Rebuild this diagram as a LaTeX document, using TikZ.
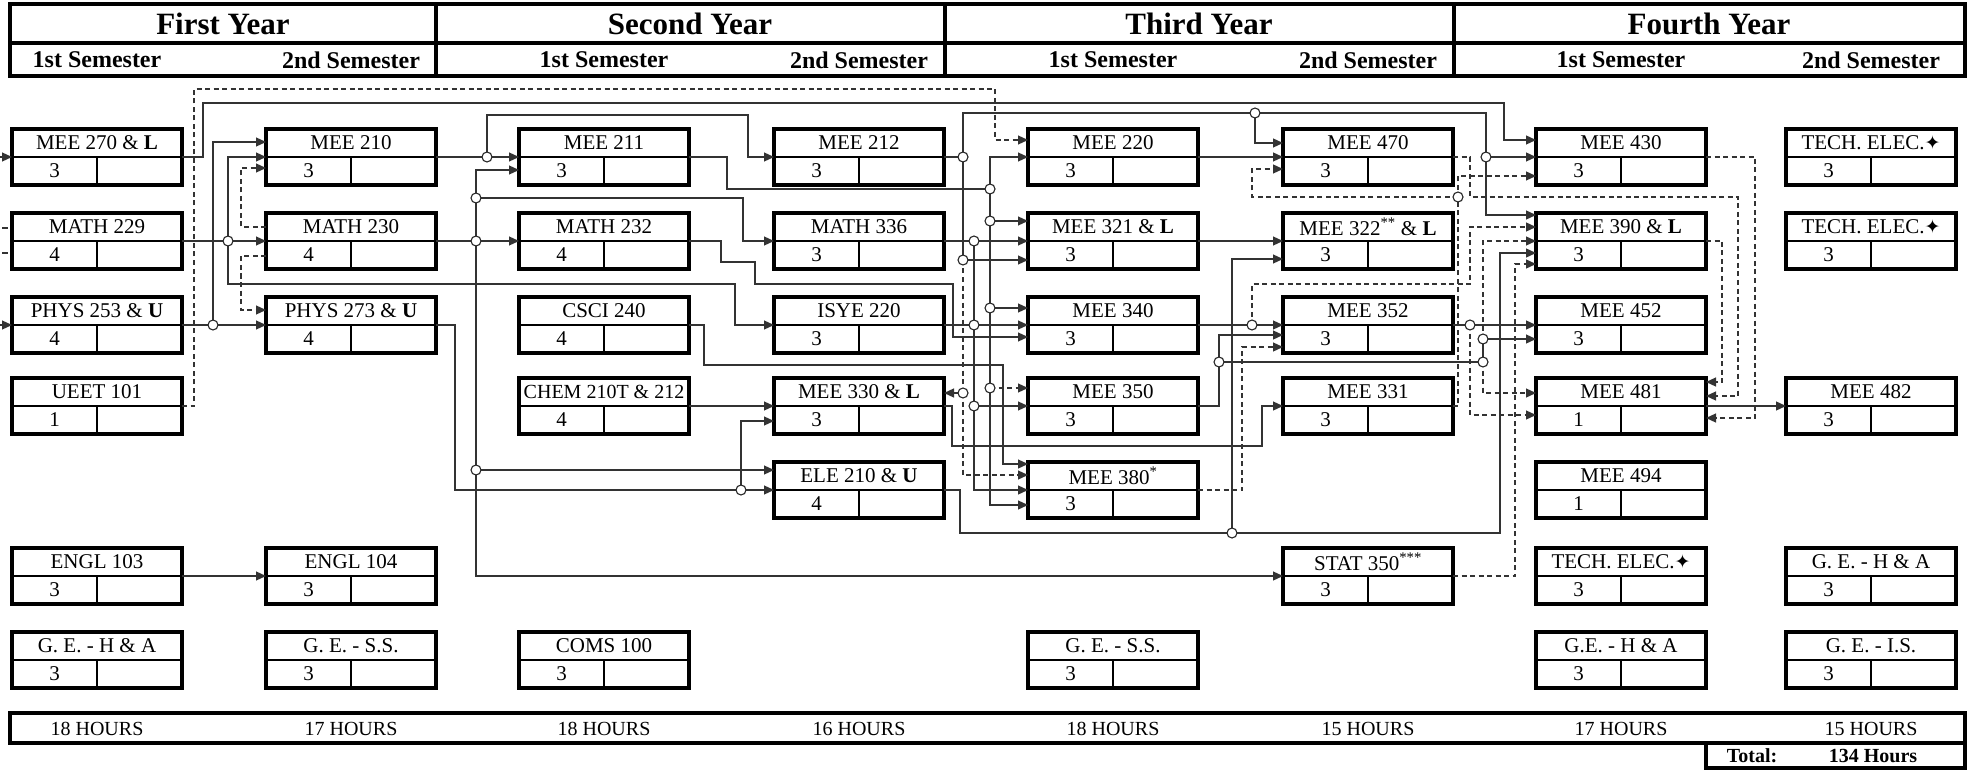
\documentclass[tikz,border=0pt]{standalone}
\usepackage{fontspec}
\setmainfont{Liberation Serif}
\newfontfamily\symf{DejaVu Sans}
\usetikzlibrary{arrows.meta,calc}
\newcommand{\crs}[5]{%
  \node[cbox] (#1) at (#2,#3) {};
  \draw[innerl] (#1.west) -- (#1.east) (#1.center) -- (#1.south);
  \node[ctext] (#1-t) at ($(#1.north)!0.5!(#1.center)$) {#4};
  \node[ctext] (#1-c) at ($(#1.south west)!0.5!(#1.center)$) {#5};
}
\newcommand{\techel}{TECH. ELEC.{\symf\fontsize{19}{22}\selectfont ✦}}
\begin{document}
\begin{tikzpicture}[x=1pt,y=-1pt,
  every node/.style={font=\fontsize{21}{25}\selectfont},
  cbox/.style={draw, line width=3.5pt, minimum width=170pt, minimum height=56pt, inner sep=0pt, outer sep=0pt, anchor=north west},
  innerl/.style={line width=1.6pt},
  ctext/.style={inner sep=1pt},
  hdr/.style={line width=3.5pt},
  yr/.style={font=\fontsize{31}{36}\selectfont\bfseries},
  sem/.style={font=\fontsize{24}{28}\selectfont\bfseries},
  conn/.style={line width=1.2pt, draw=black!80},
  arr/.style={conn, -{Triangle[length=10pt,width=9pt]}},
  dsh/.style={dash pattern=on 5pt off 3.5pt},
  junc/.style={circle, draw=black!85, line width=1.1pt, fill=white, minimum size=10pt, inner sep=0pt}]
\useasboundingbox (0,0) rectangle (1971,770);
% header
\draw[hdr] (10,4) rectangle (1965,76);
\draw[hdr] (10,43) -- (1965,43);
\draw[hdr] (436,4) -- (436,76) (945,4) -- (945,76) (1454,4) -- (1454,76);
\node[yr] (y1) at (223,23.5) {First Year};
\node[yr] (y2) at (690,23.5) {Second Year};
\node[yr] (y3) at (1199,23.5) {Third Year};
\node[yr] (y4) at (1709,23.5) {Fourth Year};
\foreach \x/\n in {97/1,604/3,1113/5,1621/7} {\node[sem] (s\n) at (\x,60) {1st Semester};}
\foreach \x/\n in {351/2,859/4,1368/6,1871/8} {\node[sem] (s\n) at (\x,60) {2nd Semester};}
% courses
\crs{m270}{12}{129}{MEE 270 \& \textbf{L}}{3}
\crs{ma229}{12}{213}{MATH 229}{4}
\crs{ph253}{12}{297}{PHYS 253 \& \textbf{U}}{4}
\crs{ue101}{12}{378}{UEET 101}{1}
\crs{en103}{12}{548}{ENGL 103}{3}
\crs{ge1}{12}{632}{G. E. - H \& A}{3}
\crs{m210}{266}{129}{MEE 210}{3}
\crs{ma230}{266}{213}{MATH 230}{4}
\crs{ph273}{266}{297}{PHYS 273 \& \textbf{U}}{4}
\crs{en104}{266}{548}{ENGL 104}{3}
\crs{ge2}{266}{632}{G. E. - S.S.}{3}
\crs{m211}{519}{129}{MEE 211}{3}
\crs{ma232}{519}{213}{MATH 232}{4}
\crs{cs240}{519}{297}{CSCI 240}{4}
\crs{ch210}{519}{378}{{\fontsize{20}{24}\selectfont CHEM 210T \& 212}}{4}
\crs{co100}{519}{632}{COMS 100}{3}
\crs{m212}{774}{129}{MEE 212}{3}
\crs{ma336}{774}{213}{MATH 336}{3}
\crs{is220}{774}{297}{ISYE 220}{3}
\crs{m330}{774}{378}{MEE 330 \& \textbf{L}}{3}
\crs{el210}{774}{462}{ELE 210 \& \textbf{U}}{4}
\crs{m220}{1028}{129}{MEE 220}{3}
\crs{m321}{1028}{213}{MEE 321 \& \textbf{L}}{3}
\crs{m340}{1028}{297}{MEE 340}{3}
\crs{m350}{1028}{378}{MEE 350}{3}
\crs{m380}{1028}{462}{MEE 380\textsuperscript{*}}{3}
\crs{ge5}{1028}{632}{G. E. - S.S.}{3}
\crs{m470}{1283}{129}{MEE 470}{3}
\crs{m322}{1283}{213}{MEE 322\textsuperscript{**} \& \textbf{L}}{3}
\crs{m352}{1283}{297}{MEE 352}{3}
\crs{m331}{1283}{378}{MEE 331}{3}
\crs{st350}{1283}{548}{STAT 350\textsuperscript{***}}{3}
\crs{m430}{1536}{129}{MEE 430}{3}
\crs{m390}{1536}{213}{MEE 390 \& \textbf{L}}{3}
\crs{m452}{1536}{297}{MEE 452}{3}
\crs{m481}{1536}{378}{MEE 481}{1}
\crs{m494}{1536}{462}{MEE 494}{1}
\crs{te7}{1536}{548}{\techel}{3}
\crs{ge7}{1536}{632}{G.E. - H \& A}{3}
\crs{te8a}{1786}{129}{\techel}{3}
\crs{te8b}{1786}{213}{\techel}{3}
\crs{m482}{1786}{378}{MEE 482}{3}
\crs{ge8a}{1786}{548}{G. E. - H \& A}{3}
\crs{ge8b}{1786}{632}{G. E. - I.S.}{3}
% hours
\draw[hdr] (10,713) rectangle (1965,743);
\draw[hdr] (1706,743) rectangle (1965,768);
\foreach \x/\h/\n in {97/18/1,351/17/2,604/18/3,859/16/4,1113/18/5,1368/15/6,1621/17/7,1871/15/8}
  {\node (h\n) at (\x,728.5) {\fontsize{20}{24}\selectfont\h\ HOURS};}
\node (tot) at (1752,756) {\fontsize{20}{24}\selectfont\textbf{Total:}};
\node (toth) at (1873,756) {\fontsize{20}{24}\selectfont\textbf{134 Hours}};
% junctions
\coordinate (J1) at (213,325);
\coordinate (J2) at (228,241);
\coordinate (J3) at (476,241);
\coordinate (J4) at (476,198);
\coordinate (J5) at (476,470);
\coordinate (J6) at (487,157);
\coordinate (J7) at (741,490);
\coordinate (J8) at (963,157);
\coordinate (J9) at (963,260);
\coordinate (J10) at (963,393);
\coordinate (J11) at (990,189);
\coordinate (J12) at (990,221);
\coordinate (J13) at (990,308);
\coordinate (J14) at (990,388);
\coordinate (J15) at (974,241);
\coordinate (J16) at (974,325);
\coordinate (J17) at (974,406);
\coordinate (J18) at (1255,113);
\coordinate (J19) at (1252,325);
\coordinate (J20) at (1219,362);
\coordinate (J21) at (1232,533);
\coordinate (J22) at (1458,197);
\coordinate (J23) at (1470,325);
\coordinate (J24) at (1483,339);
\coordinate (J25) at (1483,362);
\coordinate (J26) at (1486,157);
% left edge
\coordinate (e1) at (-2,157);
\coordinate (e2) at (-2,325);
\coordinate (e3) at (2,228);
\coordinate (e4) at (8,228);
\coordinate (e5) at (2,253);
\coordinate (e6) at (8,253);
\draw[arr] (e1) -- (m270.west);
\draw[arr] (e2) -- (ph253.west);
\draw[conn] (e3) -- (e4) (e5) -- (e6);
% first year
\draw[arr] (m270.east) -| (203,103) -| (1504,140) -- ($(m430.north west)+(0,11)$);
\draw[arr,dsh] (ue101.east) -| (194,89) -| (995,140) -- ($(m220.north west)+(0,11)$);
\draw[arr] (ma229.east) -- (ma230.west);
\draw[arr] (J2) |- (m210.west);
\draw[arr] (J2) |- (735,284) |- (is220.west);
\draw[arr] (ph253.east) -- (ph273.west);
\draw[arr] (J1) |- ($(m210.north west)+(0,13)$);
\draw[arr,dsh] ($(ma230.north west)+(0,14)$) -| (241,168) -- ($(m210.north west)+(0,39)$);
\draw[arr,dsh] ($(ma230.north west)+(0,43)$) -| (241,310) -- ($(ph273.north west)+(0,13)$);
% second semester
\draw[arr] (m210.east) -- (m211.west);
\draw[arr] (J6) |- (748,115) |- (m212.west);
\draw[arr] (ma230.east) -- (ma232.west);
\draw[arr] (J3) |- ($(m211.north west)+(0,41)$);
\draw[arr] (J4) -| (743,241) -- (ma336.west);
\draw[conn] (J3) -- (J5);
\draw[arr] (J5) -- ($(el210.north west)+(0,8)$);
\draw[arr] (J5) |- (st350.west);
\draw[arr] (ph273.east) -| (455,490) -- (el210.west);
\draw[arr] (J7) |- ($(m330.north west)+(0,43)$);
% second year
\draw[conn] (m211.east) -| (727,189) -- (J11);
\draw[arr] (J11) |- (m220.west);
\draw[arr] (J11) |- ($(m380.north west)+(0,43)$);
\draw[arr] (J12) -- ($(m321.north west)+(0,8)$);
\draw[arr] (J13) -- ($(m340.north west)+(0,11)$);
\draw[arr,dsh] (J14) -- ($(m350.north west)+(0,10)$);
\draw[arr] (ma232.east) -| (721,262) -| (755,284) -| (953,337) -- ($(m340.north west)+(0,40)$);
\draw[arr] (cs240.east) -| (704,365) -| (1003,464) -- ($(m380.north west)+(0,2)$);
\draw[arr] (ch210.east) -- (m330.west);
\draw[conn] (m212.east) -- (J8);
\draw[conn] (J8) |- (J18);
\draw[arr] (J18) |- ($(m470.north west)+(0,14)$);
\draw[arr] (J18) -| (1486,215) -- ($(m390.north west)+(0,2)$);
\draw[arr] (J26) -- (m430.west);
\draw[arr] (J8) |- ($(m321.north west)+(0,47)$);
\draw[conn,dsh] (J9) -- (J10);
\draw[arr] (J10) -- ($(m330.north east)+(0,15)$);
\draw[arr,dsh] (J10) |- ($(m380.north west)+(0,13)$);
\draw[arr] (ma336.east) -- (m321.west);
\draw[arr] (J15) |- (m380.west);
\draw[arr] (J16) -- (m340.west);
\draw[arr] (J17) -- (m350.west);
\draw[conn] (is220.east) -- (J16);
\draw[arr] (m330.east) -| (952,446) -| (1262,406) -- (m331.west);
\draw[arr] (el210.east) -| (960,533) -| (1500,253) -- ($(m390.north west)+(0,40)$);
\draw[arr] (J21) |- ($(m322.north west)+(0,46)$);
% third year
\draw[arr] (m220.east) -- (m470.west);
\draw[arr] (m321.east) -- (m322.west);
\draw[arr] (m340.east) -- (m352.west);
\draw[arr,dsh] (J19) |- (1470,284) |- ($(m390.north west)+(0,14)$);
\draw[arr] (m350.east) -| (1219,335) -- ($(m352.north west)+(0,38)$);
\draw[conn] (J20) -- (J25);
\draw[conn] (J25) -- (J24);
\draw[arr] (J24) -- ($(m452.north west)+(0,42)$);
\draw[arr,dsh] (J24) |- (m390.west);
\draw[arr,dsh] (J25) |- ($(m481.north west)+(0,15)$);
\draw[arr,dsh] (m380.east) -| (1242,347) -- ($(m352.north west)+(0,50)$);
\draw[arr] (m352.east) -- (m452.west);
\draw[arr,dsh] (J23) |- ($(m481.north west)+(0,37)$);
\draw[arr,dsh] (m331.east) -| (1458,176) -- ($(m430.north west)+(0,47)$);
\draw[arr,dsh] (J22) -| (1252,169) -- ($(m470.north west)+(0,40)$);
\draw[arr,dsh] (m470.east) -| (1470,197) -| (1738,396) -- ($(m481.north east)+(0,18)$);
\draw[arr,dsh] (st350.east) -| (1515,264) -- ($(m390.north west)+(0,51)$);
% fourth year
\draw[arr,dsh] (m430.east) -| (1755,418) -- ($(m481.north east)+(0,40)$);
\draw[arr,dsh] (m390.east) -| (1722,382) -- ($(m481.north east)+(0,4)$);
\draw[arr] (m481.east) -- (m482.west);
\draw[arr] (en103.east) -- (en104.west);
% junction circles
\foreach \j in {J1,J2,J3,J4,J5,J6,J7,J8,J9,J10,J11,J12,J13,J14,J15,J16,J17,J18,J19,J20,J21,J22,J23,J24,J25,J26}
  {\node[junc] (c\j) at (\j) {};}
\end{tikzpicture}
\end{document}
